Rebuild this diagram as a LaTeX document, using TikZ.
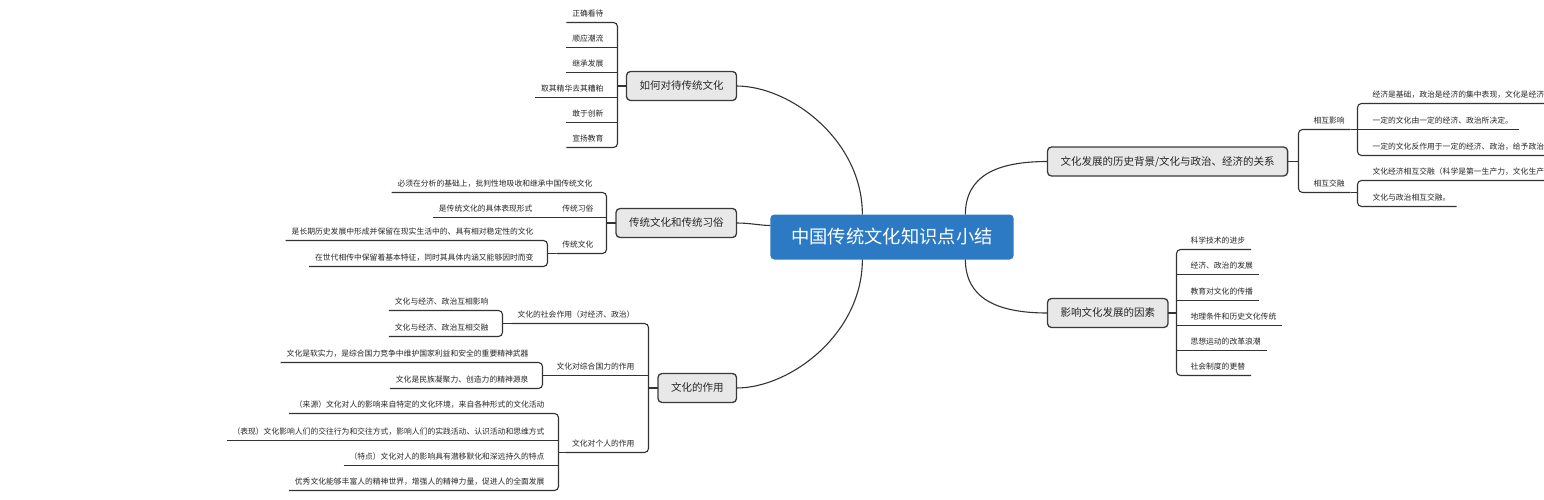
\documentclass[tikz,border=0pt]{standalone}
\usepackage{fontspec}
\newfontfamily\cjk{Noto Sans CJK SC}
\usetikzlibrary{calc}
\definecolor{lineC}{HTML}{333333}
\definecolor{boxfill}{HTML}{E8E8E8}
\definecolor{boxdraw}{HTML}{3A3A3A}
\definecolor{rootfill}{HTML}{2B7AC3}
\definecolor{txt}{HTML}{262626}
\begin{document}
\begin{tikzpicture}[x=1pt,y=-1pt,
  root/.style={fill=rootfill, rounded corners=4pt, text=white, font=\cjk\fontsize{18.3}{20}\selectfont, text height=16pt, text depth=2.2pt, inner xsep=21pt, inner ysep=0pt, minimum height=45pt, outer sep=0pt},
  topic/.style={draw=boxdraw, line width=1.3pt, fill=boxfill, rounded corners=4pt, text=txt, font=\cjk\fontsize{10.5}{12}\selectfont, text height=9.2pt, text depth=1.3pt, inner xsep=13pt, inner ysep=0pt, minimum height=29pt, outer sep=0pt},
  sub/.style={font=\cjk\fontsize{7.8}{9}\selectfont, text=txt, text height=7pt, text depth=2pt, inner xsep=6pt, inner ysep=4pt, outer sep=0pt},
  link/.style={draw=lineC, line width=1.1pt},
  br/.style={draw=lineC, line width=1.1pt, rounded corners=4pt},
]
\useasboundingbox (0,0) rectangle (1544,500);
\clip (0,0) rectangle (1544,500);
\begin{scope}[shift={(0.5,0.5)}]
% root
\node[root] (c) at (891.5,236.5) {中国传统文化知识点小结};
\coordinate (cTL) at ($(c.north west)+(92,0)$);
\coordinate (cBL) at ($(c.south west)+(92,0)$);
\coordinate (cTR) at ($(c.north west)+(195,0)$);
\coordinate (cBR) at ($(c.south west)+(195,0)$);
\coordinate (cL) at ($(c.west)+(0,-11.5)$);

% level 1
\node[topic, anchor=east] (n1) at (736,85.5) {如何对待传统文化};
\node[topic, anchor=east] (n2) at (736,222.5) {传统文化和传统习俗};
\node[topic, anchor=east] (n3) at (736,387.5) {文化的作用};
\node[topic, anchor=west] (n4) at (1047,161) {文化发展的历史背景/文化与政治、经济的关系};
\node[topic, anchor=west] (n5) at (1047,312.5) {影响文化发展的因素};

\draw[link] (cTL) .. controls (862,140) and (790,85.5) .. (n1.east);
\draw[link] (cL) .. controls (760,225) and (750,222.5) .. (n2.east);
\draw[link] (cBL) .. controls (862,333) and (790,387.5) .. (n3.east);
\draw[link] (cTR) .. controls (965,176) and (995,161) .. (n4.west);
\draw[link] (cBR) .. controls (965,297) and (995,312.5) .. (n5.west);

% ---- branch 1
\coordinate (b1) at (617,0);
\node[sub, anchor=south east] (a1) at (609,22) {正确看待};
\node[sub, anchor=south east] (a2) at (609,47) {顺应潮流};
\node[sub, anchor=south east] (a3) at (609,72) {继承发展};
\node[sub, anchor=south east] (a4) at (609,97) {取其精华去其糟粕};
\node[sub, anchor=south east] (a5) at (609,122) {敢于创新};
\node[sub, anchor=south east] (a6) at (609,147) {宣扬教育};
\draw[br] (a1.south west) -- (a1.south west -| b1) -- (a6.south west -| b1) -- (a6.south west);
\foreach \k in {a2,a3,a4,a5} \draw[link] (\k.south west) -- (\k.south west -| b1);
\draw[link] (n1.west) -- (n1.west -| b1);

% ---- branch 2
\coordinate (b2) at (606,0);
\coordinate (b3) at (547,0);
\node[sub, anchor=south east] (t1) at (598,192) {必须在分析的基础上，批判性地吸收和继承中国传统文化};
\node[sub, anchor=south east] (t2) at (599,217) {传统习俗};
\node[sub, anchor=south east] (t2a) at (538,217) {是传统文化的具体表现形式};
\node[sub, anchor=south east] (t3) at (599,253) {传统文化};
\node[sub, anchor=south east] (t3a) at (539,240) {是长期历史发展中形成并保留在现实生活中的、具有相对稳定性的文化};
\node[sub, anchor=south east] (t3b) at (539,266) {在世代相传中保留着基本特征，同时其具体内涵又能够因时而变};
\draw[br] (t1.south west) -- (t1.south west -| b2) -- (t3.south west -| b2) -- (t3.south west);
\draw[link] (t2a.south west) -- (t2.south west -| b2);
\draw[link] (n2.west) -- (n2.west -| b2);
\draw[br] (t3a.south west) -- (t3a.south west -| b3) -- (t3b.south west -| b3) -- (t3b.south west);
\draw[link] (t3.south west) -- (t3.south west -| b3);

% ---- branch 3
\coordinate (b4) at (648,0);
\coordinate (b5) at (502,0);
\coordinate (b6) at (542,0);
\coordinate (b7) at (558,0);
\node[sub, anchor=south east] (s1) at (640,323) {文化的社会作用（对经济、政治）};
\node[sub, anchor=south east] (s2) at (640,375) {文化对综合国力的作用};
\node[sub, anchor=south east] (s3) at (640,452) {文化对个人的作用};
\node[sub, anchor=south east] (s1a) at (494,310) {文化与经济、政治互相影响};
\node[sub, anchor=south east] (s1b) at (494,336) {文化与经济、政治互相交融};
\node[sub, anchor=south east] (s2a) at (534,362) {文化是软实力，是综合国力竞争中维护国家利益和安全的重要精神武器};
\node[sub, anchor=south east] (s2b) at (534,388) {文化是民族凝聚力、创造力的精神源泉};
\node[sub, anchor=south east] (s3a) at (550,413) {（来源）文化对人的影响来自特定的文化环境，来自各种形式的文化活动};
\node[sub, anchor=south east] (s3b) at (550,440) {（表现）文化影响人们的交往行为和交往方式，影响人们的实践活动、认识活动和思维方式};
\node[sub, anchor=south east] (s3c) at (550,465) {（特点）文化对人的影响具有潜移默化和深远持久的特点};
\node[sub, anchor=south east] (s3d) at (550,490) {优秀文化能够丰富人的精神世界，增强人的精神力量，促进人的全面发展};
\draw[br] (s1.south west) -- (s1.south west -| b4) -- (s3.south west -| b4) -- (s3.south west);
\draw[link] (s2.south west) -- (s2.south west -| b4);
\draw[link] (n3.west) -- (n3.west -| b4);
\draw[br] (s1a.south west) -- (s1a.south west -| b5) -- (s1b.south west -| b5) -- (s1b.south west);
\draw[link] (s1.south west) -- (s1.south west -| b5);
\draw[br] (s2a.south west) -- (s2a.south west -| b6) -- (s2b.south west -| b6) -- (s2b.south west);
\draw[link] (s2.south west) -- (s2.south west -| b6);
\draw[br] (s3a.south west) -- (s3a.south west -| b7) -- (s3d.south west -| b7) -- (s3d.south west);
\draw[link] (s3b.south west) -- (s3b.south west -| b7);
\draw[link] (s3c.south west) -- (s3c.south west -| b7);
\draw[link] (s3.south west) -- (s3.south west -| b7);

% ---- branch 4
\coordinate (b8) at (1298,0);
\coordinate (b9) at (1357,0);
\node[sub, anchor=south west] (r1) at (1307,129) {相互影响};
\node[sub, anchor=south west] (r2) at (1307,192) {相互交融};
\node[sub, anchor=south west] (r1a) at (1366,103) {经济是基础，政治是经济的集中表现，文化是经济};
\node[sub, anchor=south west] (r1b) at (1366,129) {一定的文化由一定的经济、政治所决定。};
\node[sub, anchor=south west] (r1c) at (1366,155) {一定的文化反作用于一定的经济、政治，给予政治};
\node[sub, anchor=south west] (r2a) at (1366,180) {文化经济相互交融（科学是第一生产力，文化生产};
\node[sub, anchor=south west] (r2b) at (1366,206) {文化与政治相互交融。};
\draw[br] (r1.south east) -- (r1.south east -| b8) -- (r2.south east -| b8) -- (r2.south east);
\draw[link] (n4.east) -- (n4.east -| b8);
\draw[br] (r1a.south east) -- (r1a.south east -| b9) -- (r1c.south east -| b9) -- (r1c.south east);
\draw[link] (r1b.south east) -- (r1b.south east -| b9);
\draw[link] (r1.south east) -- (r1.south east -| b9);
\draw[br] (r2a.south east) -- (r2a.south east -| b9) -- (r2b.south east -| b9) -- (r2b.south east);
\draw[link] (r2.south east) -- (r2.south east -| b9);

% ---- branch 5
\coordinate (b11) at (1176,0);
\node[sub, anchor=south west] (f1) at (1184,249) {科学技术的进步};
\node[sub, anchor=south west] (f2) at (1184,274) {经济、政治的发展};
\node[sub, anchor=south west] (f3) at (1184,300) {教育对文化的传播};
\node[sub, anchor=south west] (f4) at (1184,325) {地理条件和历史文化传统};
\node[sub, anchor=south west] (f5) at (1184,350) {思想运动的改革浪潮};
\node[sub, anchor=south west] (f6) at (1184,375) {社会制度的更替};
\draw[br] (f1.south east) -- (f1.south east -| b11) -- (f6.south east -| b11) -- (f6.south east);
\foreach \k in {f2,f3,f4,f5} \draw[link] (\k.south east) -- (\k.south east -| b11);
\draw[link] (n5.east) -- (n5.east -| b11);
\end{scope}
\end{tikzpicture}
\end{document}
